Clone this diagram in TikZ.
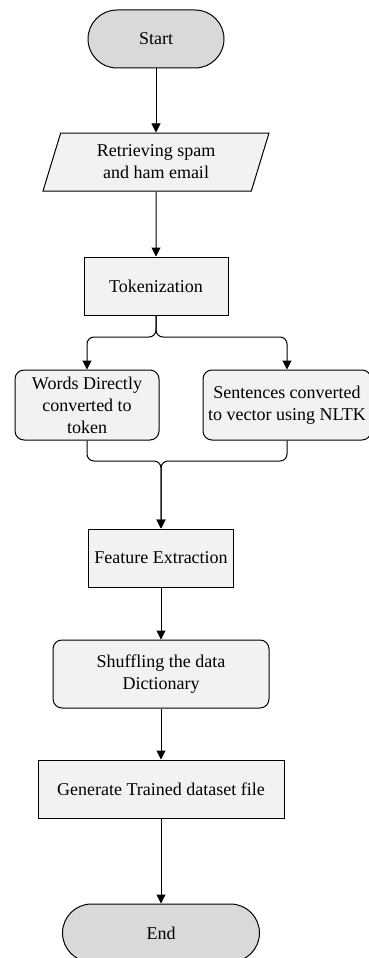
\documentclass[tikz,border=0pt]{standalone}
\usepackage{fontspec}
\setmainfont{Liberation Serif}
\usetikzlibrary{shapes.geometric,arrows.meta,positioning,calc}

\begin{document}
\begin{tikzpicture}[x=1pt, y=1pt, line width=1pt,
    every node/.style={font=\fontsize{18}{22}\selectfont, align=center, inner sep=0pt},
    terminal/.style={draw, fill=gray!30, rounded corners=29pt, minimum height=58pt},
    io/.style={draw, fill=gray!10, trapezium, trapezium left angle=62.6, trapezium right angle=117.4,
        trapezium stretches body, minimum height=58pt},
    process/.style={draw, fill=gray!10, minimum height=58pt},
    roundbox/.style={draw, fill=gray!10, rounded corners=9pt},
    >={Triangle[length=9pt,width=9pt]}]
    \useasboundingbox (0,0) rectangle (368,-958);

    \node[terminal, minimum width=136pt] (start) at (156,-39) {Start};
    \node[io, minimum width=226pt] (retrieve) at (156,-162) {Retrieving spam\\and ham email};
    \node[process, minimum width=144pt] (token) at (156,-286) {Tokenization};

    \node[roundbox, minimum width=144pt, minimum height=70pt] (words) at (87,-405)
        {Words Directly\\converted to\\token};
    \node[roundbox, minimum width=168pt, minimum height=70pt] (sentences) at (287,-405)
        {Sentences converted\\to vector using NLTK};

    \node[process, minimum width=145pt] (feature) at (161,-558) {Feature Extraction};
    \node[roundbox, minimum width=216pt, minimum height=68pt] (shuffle) at (161,-674)
        {Shuffling the data\\Dictionary};
    \node[process, minimum width=246pt] (generate) at (161,-789) {Generate Trained dataset file};
    \node[terminal, minimum width=197pt] (stop) at (161,-933) {End};

    % split and merge points
    \coordinate (split) at (156,-337);
    \coordinate (merge) at (161,-461);

    \draw[->] (start) -- (retrieve);
    \draw[->] (retrieve) -- (token);
    \draw[->, rounded corners=7pt] (token.south) -- (split) -| (words.north);
    \draw[->, rounded corners=7pt] (token.south) -- (split) -| (sentences.north);
    \draw[->, rounded corners=7pt] (words.south) |- (merge) -- (feature.north);
    \draw[->, rounded corners=7pt] (sentences.south) |- (merge) -- (feature.north);
    \draw[->] (feature) -- (shuffle);
    \draw[->] (shuffle) -- (generate);
    \draw[->] (generate) -- (stop);

\end{tikzpicture}
\end{document}
